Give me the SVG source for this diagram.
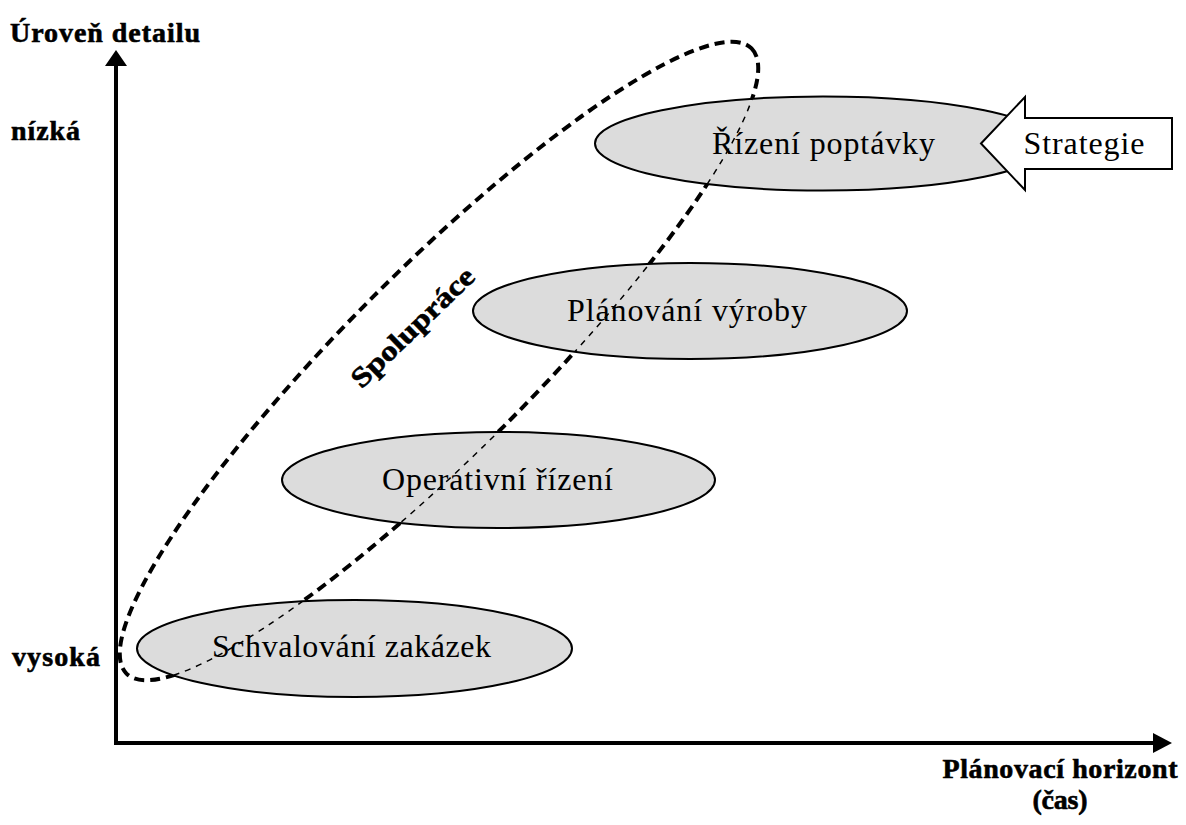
<svg xmlns="http://www.w3.org/2000/svg" width="1186" height="825" viewBox="0 0 1186 825">
  <style>
    .bg { fill: #ffffff; }
    .stage { fill: #dcdcdc; stroke: #000000; stroke-width: 2; }
    .label { font-family: "Liberation Serif", "Times New Roman", serif; font-size: 32px; fill: #000000; text-anchor: middle; }
    .axis-label { font-family: "Liberation Serif", "Times New Roman", serif; font-size: 28px; font-weight: bold; fill: #000000; stroke: #000000; stroke-width: 0.6; }
    .axis { stroke: #000000; stroke-width: 4; fill: none; }
    .head { fill: #000000; }
    .loop-outer { fill: none; stroke: #000000; stroke-width: 4; stroke-dasharray: 10 6; }
    .loop-inner { fill: none; stroke: #000000; stroke-width: 1.5; stroke-dasharray: 6 6; }
    .arrow-box { fill: #ffffff; stroke: #000000; stroke-width: 2; stroke-linejoin: miter; }
  </style>
  <defs>
    <!-- union of the four stage ellipses: the collaboration loop is drawn thin inside them -->
    <clipPath id="stage-area">
      <ellipse cx="823" cy="143.5" rx="228" ry="47"/>
      <ellipse cx="690" cy="311" rx="217" ry="48"/>
      <ellipse cx="498.5" cy="480" rx="216.5" ry="48"/>
      <ellipse cx="354.5" cy="648.5" rx="217.5" ry="48.5"/>
    </clipPath>
  </defs>

  <rect class="bg" x="0" y="0" width="1186" height="825"/>

  <!-- collaboration loop, thick part (hidden under the ellipses) -->
  <g id="collaboration">
    <ellipse class="loop-outer" cx="439" cy="361" rx="442" ry="92" transform="rotate(-45 439 361)"/>
  </g>

  <g id="schvalovani-zakazek">
    <ellipse class="stage" cx="354.5" cy="648.5" rx="217.5" ry="48.5"/>
  </g>
  <g id="operativni-rizeni">
    <ellipse class="stage" cx="498.5" cy="480" rx="216.5" ry="48"/>
  </g>
  <g id="planovani-vyroby">
    <ellipse class="stage" cx="690" cy="311" rx="217" ry="48"/>
  </g>
  <g id="rizeni-poptavky">
    <ellipse class="stage" cx="823" cy="143.5" rx="228" ry="47"/>
  </g>

  <!-- collaboration loop, thin part over the ellipses -->
  <g id="collaboration-inner" clip-path="url(#stage-area)">
    <ellipse class="loop-inner" cx="439" cy="361" rx="442" ry="92" transform="rotate(-45 439 361)"/>
  </g>

  <!-- stage labels -->
  <text class="label" x="823.5" y="154" textLength="223" lengthAdjust="spacing">Řízení poptávky</text>
  <text class="label" x="687" y="321" textLength="240" lengthAdjust="spacing">Plánování výroby</text>
  <text class="label" x="497.5" y="490" textLength="231" lengthAdjust="spacing">Operativní řízení</text>
  <text class="label" x="351.5" y="657" textLength="279" lengthAdjust="spacing">Schvalování zakázek</text>

  <text class="axis-label" transform="translate(419 334) rotate(-44)" text-anchor="middle" font-size="34" stroke-width="1.2" textLength="160" lengthAdjust="spacingAndGlyphs">Spolupráce</text>

  <!-- strategy input arrow -->
  <g id="strategie">
    <path class="arrow-box" d="M981 143.5 L1025 97 L1025 118 L1172 118 L1172 169 L1025 169 L1025 190 Z"/>
    <text class="label" x="1084" y="154" textLength="121" lengthAdjust="spacing">Strategie</text>
  </g>

  <!-- axes -->
  <g id="connectors">
    <line class="axis" x1="116" y1="745" x2="116" y2="62"/>
    <polygon class="head" points="116,50 105,66 127,66"/>
    <line class="axis" x1="114" y1="743" x2="1156" y2="743"/>
    <polygon class="head" points="1172,743 1153,733 1153,753"/>
  </g>

  <!-- axis labels -->
  <text class="axis-label" x="10" y="42" textLength="190" lengthAdjust="spacing">Úroveň detailu</text>
  <text class="axis-label" x="11" y="140" font-weight="normal" font-size="30" stroke-width="0.5" textLength="69" lengthAdjust="spacing">nízká</text>
  <text class="axis-label" x="12" y="666" textLength="88" lengthAdjust="spacing">vysoká</text>
  <text class="axis-label" x="1060" y="778" text-anchor="middle" textLength="235" lengthAdjust="spacing">Plánovací horizont</text>
  <text class="axis-label" x="1060" y="809" text-anchor="middle" textLength="55" lengthAdjust="spacing">(čas)</text>
</svg>
